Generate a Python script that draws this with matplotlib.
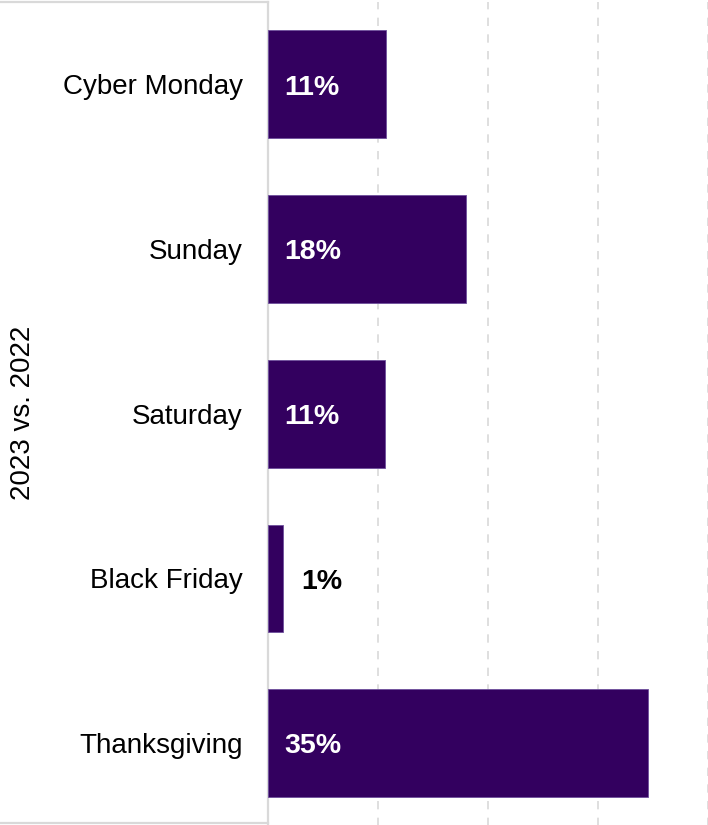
import matplotlib.pyplot as plt
from matplotlib.lines import Line2D

plt.rcParams['font.family'] = ['Liberation Sans', 'DejaVu Sans']

# data, bottom to top
days = ["Thanksgiving", "Black Friday", "Saturday", "Sunday", "Cyber Monday"]
growth = [34.5, 1.4, 10.6, 18.0, 10.7]
labels = ["35%", "1%", "11%", "18%", "11%"]

bar_color = "#33005f"
grid_color = "#d9d9d9"

fig = plt.figure(figsize=(7.08, 8.25), dpi=100)
ax = fig.add_axes([268 / 708, -0.5 / 825, 440 / 708, 823.5 / 825])

bars = ax.barh(days, growth, height=0.655, color=bar_color,
               edgecolor="#6d4f9c", linewidth=0.6, zorder=3)

ax.set_xlim(0, 40)
ax.set_ylim(-0.5, 4.5)
ax.set_xticks([10, 20, 30, 40])
ax.xaxis.grid(True, color=grid_color, linestyle=(0, (5, 5)), linewidth=1.2, zorder=0)
ax.tick_params(axis="x", bottom=False, labelbottom=False)
ax.tick_params(axis="y", left=False, pad=14.5, labelsize=20)

for side in ["top", "right", "bottom"]:
    ax.spines[side].set_visible(False)
ax.spines["left"].set_color(grid_color)
ax.spines["left"].set_linewidth(1.6)

# data labels: inside white for wide bars, outside black for tiny one
for i, (v, lab) in enumerate(zip(growth, labels)):
    if v > 5:
        ax.text(1.45, i - 0.02, lab, color="white", fontsize=20.5, fontweight="bold",
                va="center", ha="left", zorder=4)
    else:
        ax.text(v + 1.6, i - 0.02, lab, color="black", fontsize=20.5, fontweight="bold",
                va="center", ha="left", zorder=4)

fig.text(23 / 708, 0.5, "2023 vs. 2022", fontsize=20, rotation=90,
         ha="center", va="center")

# light frame around the category label area
fig.add_artist(Line2D([0, 268 / 708], [1 - 2 / 825, 1 - 2 / 825],
                      transform=fig.transFigure, color=grid_color, linewidth=1.6))
fig.add_artist(Line2D([0, 268 / 708], [2 / 825, 2 / 825],
                      transform=fig.transFigure, color=grid_color, linewidth=1.6))

fig.savefig("out.png", dpi=100)
